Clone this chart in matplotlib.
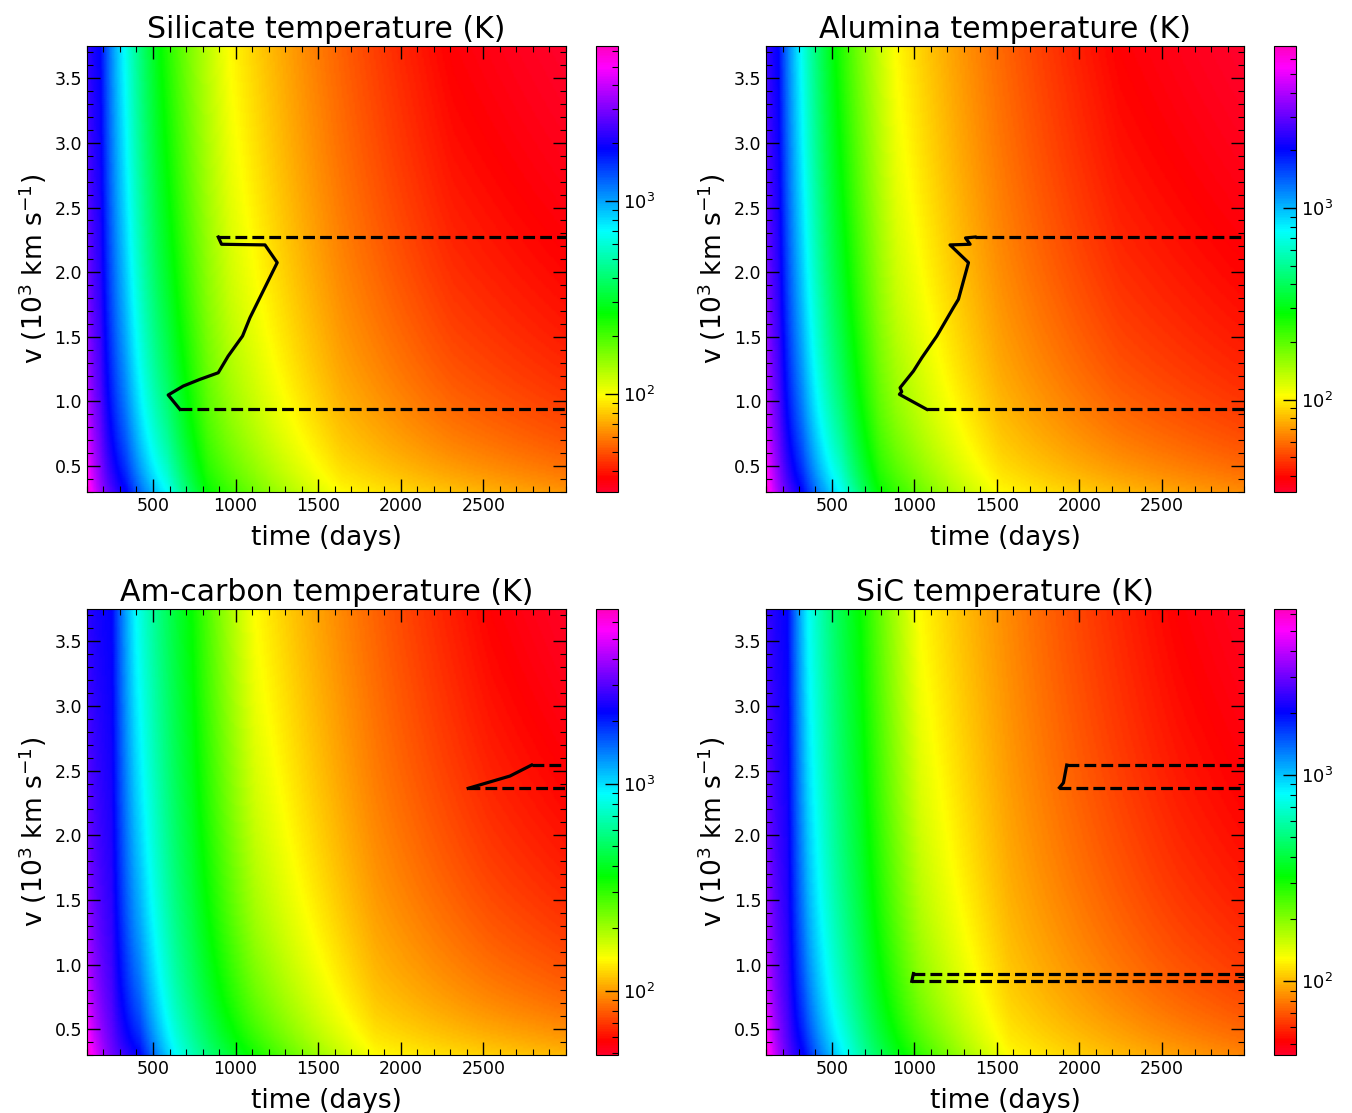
import numpy as np
import matplotlib
matplotlib.use('Agg')
import matplotlib.pyplot as plt
from matplotlib.colors import LogNorm
from matplotlib.ticker import MultipleLocator, FixedLocator

plt.rcParams['font.family'] = 'DejaVu Sans'
plt.rcParams['xtick.direction'] = 'in'
plt.rcParams['ytick.direction'] = 'in'
plt.rcParams['xtick.top'] = True
plt.rcParams['ytick.right'] = True

titles = ['Silicate temperature (K)', 'Alumina temperature (K)',
          'Am-carbon temperature (K)', 'SiC temperature (K)']

# colour scale limits (K)
temp_lo = [31, 33, 49, 44]
temp_hi = [6400, 7000, 6950, 6370]

# temperature along the top edge (v = 3.75) of each panel
top_days = [[100, 181, 325, 547, 965, 2320, 3000],
            [100, 175, 310, 520, 890, 2250, 3000],
            [100, 250, 395, 730, 1117, 2550, 3000],
            [100, 230, 355, 670, 1034, 2600, 3000]]
top_temp = [[2300, 1880, 705, 261, 97.5, 36, 31],
            [2600, 2040, 762, 281, 104, 38.8, 33],
            [2600, 2230, 895, 357, 143, 57, 50],
            [2500, 2030, 813, 322, 128, 51, 46]]

# temperature along the bottom edge (v = 0.3)
bot_days = [[100, 338, 586, 834, 1643, 3000],
            [100, 320, 555, 790, 1530, 3000],
            [100, 420, 640, 1080, 1850, 3000],
            [100, 330, 580, 943, 1580, 3000]]
bot_temp = [[6400, 1880, 705, 261, 97.5, 66],
            [7000, 2040, 762, 281, 104, 68],
            [6950, 2230, 895, 357, 143, 112],
            [6370, 2030, 813, 322, 128, 84]]

# dust formation region outlines (days, 10^3 km/s); dashed lines run on from both ends
sil_t = [895, 915, 1178, 1252, 1087, 1042, 955, 895, 784, 683, 633, 592, 663]
sil_v = [2.272, 2.216, 2.211, 2.074, 1.648, 1.506, 1.351, 1.222, 1.171, 1.119, 1.081, 1.050, 0.939]
alu_t = [1368, 1310, 1338, 1216, 1328, 1267, 1236, 1136, 1045, 994, 913, 923, 909, 1075]
alu_v = [2.272, 2.265, 2.216, 2.211, 2.074, 1.790, 1.725, 1.506, 1.338, 1.235, 1.106, 1.075, 1.055, 0.939]
amc_t = [2792, 2661, 2408]
amc_v = [2.543, 2.458, 2.363]
sic1_t = [1924, 1904, 1880]
sic1_v = [2.543, 2.406, 2.368]
sic2_t = [994, 984]
sic2_v = [0.93, 0.87]

regions = [[(sil_t, sil_v)], [(alu_t, alu_v)], [(amc_t, amc_v)],
           [(sic1_t, sic1_v), (sic2_t, sic2_v)]]

t_range = (100, 3000)
v_range = (0.3, 3.75)

tt = np.linspace(t_range[0], t_range[1], 300)
vv = np.linspace(v_range[0], v_range[1], 220)
w = np.log(vv / vv[0]) / np.log(vv[-1] / vv[0])

fig = plt.figure(figsize=(13.52, 11.13), dpi=100)

ax_rects = [[0.0643, 0.5580, 0.3543, 0.4007], [0.5666, 0.5580, 0.3536, 0.4007],
            [0.0643, 0.0521, 0.3543, 0.4007], [0.5666, 0.0521, 0.3536, 0.4007]]
cb_rects = [[0.4408, 0.5580, 0.0163, 0.4007], [0.9423, 0.5580, 0.0163, 0.4007],
            [0.4408, 0.0521, 0.0163, 0.4007], [0.9423, 0.0521, 0.0163, 0.4007]]

for i in range(4):
    ax = fig.add_axes(ax_rects[i])
    log_top = np.interp(np.log(tt), np.log(top_days[i]), np.log10(top_temp[i]))
    log_bot = np.interp(np.log(tt), np.log(bot_days[i]), np.log10(bot_temp[i]))
    logT = log_bot[None, :] + w[:, None] * (log_top - log_bot)[None, :]
    mesh = ax.pcolormesh(tt, vv, 10**logT, cmap='gist_rainbow',
                         norm=LogNorm(vmin=temp_lo[i], vmax=temp_hi[i]),
                         shading='gouraud', rasterized=True)

    for rt, rv in regions[i]:
        ax.plot(rt, rv, '-', color='k', lw=2.3)
        ax.plot([rt[0], t_range[1]], [rv[0], rv[0]], '--', color='k', lw=2.3)
        ax.plot([rt[-1], t_range[1]], [rv[-1], rv[-1]], '--', color='k', lw=2.3)

    ax.set_xlim(t_range)
    ax.set_ylim(v_range)
    ax.xaxis.set_major_locator(FixedLocator([500, 1000, 1500, 2000, 2500]))
    ax.xaxis.set_minor_locator(MultipleLocator(100))
    ax.yaxis.set_major_locator(FixedLocator([0.5, 1.0, 1.5, 2.0, 2.5, 3.0, 3.5]))
    ax.yaxis.set_minor_locator(MultipleLocator(0.1))
    ax.tick_params(which='major', length=9.5, width=1, labelsize=12.5)
    ax.tick_params(which='minor', length=4.5, width=0.8)
    ax.set_title(titles[i], fontsize=21.5)
    ax.set_xlabel('time (days)', fontsize=19, labelpad=7)
    ax.set_ylabel('v (10$^3$ km s$^{-1}$)', fontsize=19)

    cax = fig.add_axes(cb_rects[i])
    cb = fig.colorbar(mesh, cax=cax)
    cb.ax.tick_params(which='major', length=9.5, width=1, labelsize=13)
    cb.ax.tick_params(which='minor', length=4.5, width=0.8)

fig.savefig('out.png', dpi=100)
